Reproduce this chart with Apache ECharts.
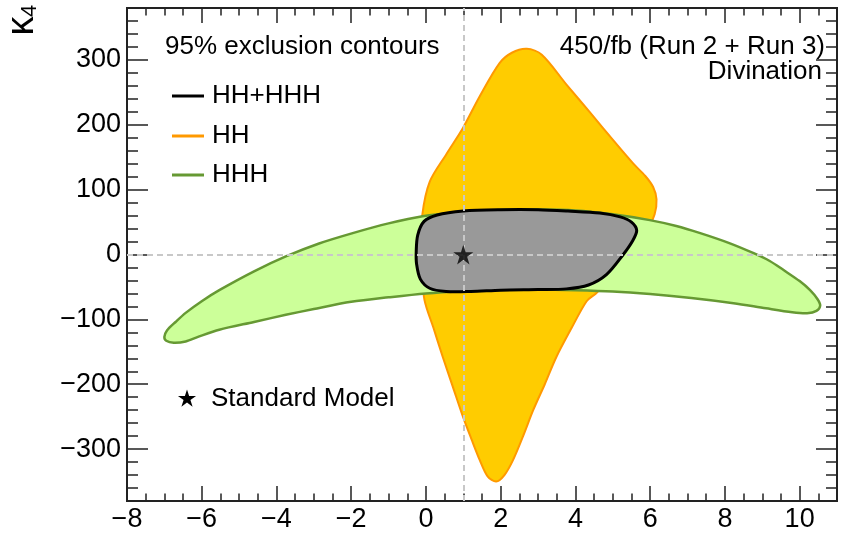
<!DOCTYPE html>
<html><head><meta charset="utf-8">
<script src="https://cdn.jsdelivr.net/npm/echarts@6/dist/echarts.min.js"></script>
<style>html,body{margin:0;padding:0;background:#fff}#c{width:855px;height:533px}</style>
</head><body><div id="c"></div>
<script>
// ---- data ----
const X_RANGE = [-8, 11];
const Y_RANGE = [-380, 380];
const xMajorTicks = [-8, -6, -4, -2, 0, 2, 4, 6, 8, 10];
const yMajorTicks = [-300, -200, -100, 0, 100, 200, 300];
const smPoint = [1, 0];
const legendLabels = ['HH+HHH', 'HH', 'HHH'];
const titleText = '95% exclusion contours';
const lumiText = '450/fb (Run 2 + Run 3)';
const subText = 'Divination';
const smLabel = 'Standard Model';

// HH 95% contour (kappa3, kappa4)
const hhContour = [
  [2.70, 317], [3.10, 308], [3.76, 262], [4.39, 219], [5.10, 170], [5.55, 140],
  [5.87, 121], [6.08, 104], [6.17, 85], [6.12, 62], [5.95, 40], [5.55, 5],
  [5.00, -33], [4.55, -60], [4.30, -72], [3.90, -113], [3.49, -158], [3.18, -200],
  [2.87, -240], [2.60, -280], [2.33, -317], [2.10, -340], [1.88, -350], [1.65, -342],
  [1.44, -317], [1.22, -285], [0.99, -250], [0.72, -204], [0.45, -158], [0.20, -113],
  [-0.04, -70], [-0.15, -5], [-0.10, 60], [0.10, 112], [0.55, 155], [0.99, 195],
  [1.44, 244], [1.97, 295], [2.30, 311]
];
// HHH 95% contour
const hhhContour = [
  [-7.00, -127], [-6.93, -117], [-6.70, -104], [-6.43, -90], [-6.00, -72], [-5.53, -55],
  [-4.60, -26], [-3.75, -3], [-2.86, 17], [-1.96, 33], [-1.00, 48], [-0.09, 59],
  [0.94, 65], [2.00, 68.5], [3.00, 69.5], [4.00, 68], [5.00, 62], [5.99, 53],
  [6.70, 44], [7.34, 33], [8.10, 18], [8.77, 2], [9.20, -10], [9.57, -24],
  [10.00, -41], [10.28, -55], [10.48, -69], [10.55, -79], [10.45, -87], [10.20, -90.5],
  [9.80, -89], [9.10, -83], [8.23, -75], [7.10, -67], [6.00, -61], [5.00, -57],
  [4.00, -55], [3.00, -54], [2.00, -54.5], [1.00, -56.5], [0.00, -60], [-1.00, -66],
  [-2.00, -73], [-3.00, -84], [-3.75, -93], [-4.60, -104], [-5.53, -116], [-6.10, -127],
  [-6.43, -134], [-6.75, -136], [-6.95, -133]
];
// HH+HHH combined 95% contour
const combinedContour = [
  [-0.26, 5], [-0.22, 30], [-0.05, 51], [0.30, 61], [1.00, 67], [2.00, 69],
  [3.00, 69], [3.80, 67], [4.65, 64], [5.20, 58], [5.50, 50], [5.64, 37],
  [5.52, 20], [5.28, 0], [4.83, -31], [4.35, -47], [3.76, -53], [3.00, -54],
  [2.00, -55], [1.20, -57], [0.54, -57], [0.10, -52], [-0.15, -38], [-0.25, -15]
];

// ---- helpers ----
const FONT = "'Liberation Sans', Arial, Helvetica, sans-serif";
function minorTicks(lo, hi, step, majors) {
  const out = [];
  for (let v = lo + step; v < hi - 1e-9; v += step) {
    const r = Math.round(v * 1000) / 1000;
    if (!majors.some(m => Math.abs(m - r) < 1e-6)) out.push(r);
  }
  return out;
}
const xMinorTicks = minorTicks(X_RANGE[0], X_RANGE[1], 0.5, xMajorTicks);
const yMinorTicks = minorTicks(Y_RANGE[0], Y_RANGE[1], 20, yMajorTicks);
const fmt = v => String(v).replace('-', '\u2212');

function starPts(cx, cy, ro, ri) {
  const pts = [];
  for (let i = 0; i < 10; i++) {
    const r = i % 2 === 0 ? ro : ri;
    const a = -Math.PI / 2 + i * Math.PI / 5;
    pts.push([cx + r * Math.cos(a), cy + r * Math.sin(a)]);
  }
  return pts;
}
const STAR = 'path://' + starPts(10, 10, 10, 3.8).map((p, i) => (i ? 'L' : 'M') + p[0].toFixed(2) + ' ' + p[1].toFixed(2)).join(' ') + ' Z';

const AX_COLOR = '#222';
function xAx(pos, ticks, len, labels) {
  return {
    type: 'value', position: pos, min: X_RANGE[0], max: X_RANGE[1],
    axisLine: { show: true, onZero: false, lineStyle: { color: AX_COLOR, width: 2 } },
    axisTick: { show: true, inside: true, length: len, customValues: ticks, lineStyle: { color: AX_COLOR, width: 1.5 } },
    axisLabel: labels ? { show: true, customValues: xMajorTicks, formatter: fmt, fontSize: 27, color: '#000', fontFamily: FONT, margin: 5 } : { show: false },
    splitLine: { show: false }
  };
}
function yAx(pos, ticks, len, labels) {
  return {
    type: 'value', position: pos, min: Y_RANGE[0], max: Y_RANGE[1],
    axisLine: { show: true, onZero: false, lineStyle: { color: AX_COLOR, width: 2 } },
    axisTick: { show: true, inside: true, length: len, customValues: ticks, lineStyle: { color: AX_COLOR, width: 1.5 } },
    axisLabel: labels ? { show: true, customValues: yMajorTicks, formatter: fmt, fontSize: 27, color: '#000', fontFamily: FONT, margin: 6 } : { show: false },
    splitLine: { show: false }
  };
}

function polySeries(name, pts, fill, stroke, lw, z) {
  return {
    type: 'custom', name, data: pts, z, silent: true, clip: true,
    encode: { x: 0, y: 1 },
    renderItem(params, api) {
      if (params.dataIndex !== 0) return { type: 'group', children: [] };
      const points = pts.map(p => api.coord(p));
      return { type: 'polygon', shape: { points, smooth: 0.3 }, style: { fill, stroke, lineWidth: lw } };
    }
  };
}

const chart = echarts.init(document.getElementById('c'), null, { renderer: 'canvas' });
const legendY = [96, 136, 175];
const legendColors = ['#000000', '#ff9900', '#669933'];
const graphics = [
  { type: 'text', left: 165, top: 34, style: { text: titleText, font: '26px ' + FONT, fill: '#000' } },
  { type: 'text', right: 30, top: 34, style: { text: lumiText, font: '26px ' + FONT, fill: '#000', align: 'right' } },
  { type: 'text', right: 33, top: 59, style: { text: subText, font: '26px ' + FONT, fill: '#000', align: 'right' } },
  { type: 'text', x: 42, y: 26, rotation: Math.PI / 2, style: { text: '\u03ba', font: '38px ' + FONT, fill: '#000', align: 'center', verticalAlign: 'bottom' } },
  { type: 'text', x: 41, y: 11, rotation: Math.PI / 2, style: { text: '4', font: '22px ' + FONT, fill: '#000', align: 'center', verticalAlign: 'bottom' } },
  { type: 'polygon', shape: { points: starPts(187, 399, 9.5, 3.6) }, style: { fill: '#000' } },
  { type: 'text', x: 211, y: 399, style: { text: smLabel, font: '26px ' + FONT, fill: '#000', verticalAlign: 'middle' } }
];
legendLabels.forEach((lab, i) => {
  graphics.push({ type: 'line', shape: { x1: 172, y1: legendY[i], x2: 204, y2: legendY[i] }, style: { stroke: legendColors[i], lineWidth: 3 } });
  graphics.push({ type: 'text', x: 212, y: legendY[i], style: { text: lab, font: '26px ' + FONT, fill: '#000', verticalAlign: 'middle' } });
});

chart.setOption({
  animation: false,
  backgroundColor: '#fff',
  grid: { left: 127, right: 18, top: 8, bottom: 32, containLabel: false },
  xAxis: [xAx('bottom', xMajorTicks, 15, true), xAx('bottom', xMinorTicks, 7.5, false), xAx('top', xMajorTicks, 15, false), xAx('top', xMinorTicks, 7.5, false)],
  yAxis: [yAx('left', yMajorTicks, 21, true), yAx('left', yMinorTicks, 11, false), yAx('right', yMajorTicks, 21, false), yAx('right', yMinorTicks, 11, false)],
  graphic: graphics,
  series: [
    polySeries('HH', hhContour, '#ffcc00', '#ff9900', 2, 2),
    polySeries('HHH', hhhContour, '#ccff99', '#669933', 2.5, 3),
    polySeries('HH+HHH', combinedContour, '#999999', '#000000', 3, 4),
    {
      type: 'line', data: [], z: 5, silent: true,
      markLine: {
        silent: true, symbol: 'none', label: { show: false },
        lineStyle: { color: '#c8c8c8', type: [6, 4], width: 2 },
        data: [{ xAxis: smPoint[0] }, { yAxis: smPoint[1] }]
      }
    },
    { type: 'scatter', data: [smPoint], symbol: STAR, symbolSize: 20, z: 6, silent: true, itemStyle: { color: '#000' } }
  ]
});
</script></body></html>
